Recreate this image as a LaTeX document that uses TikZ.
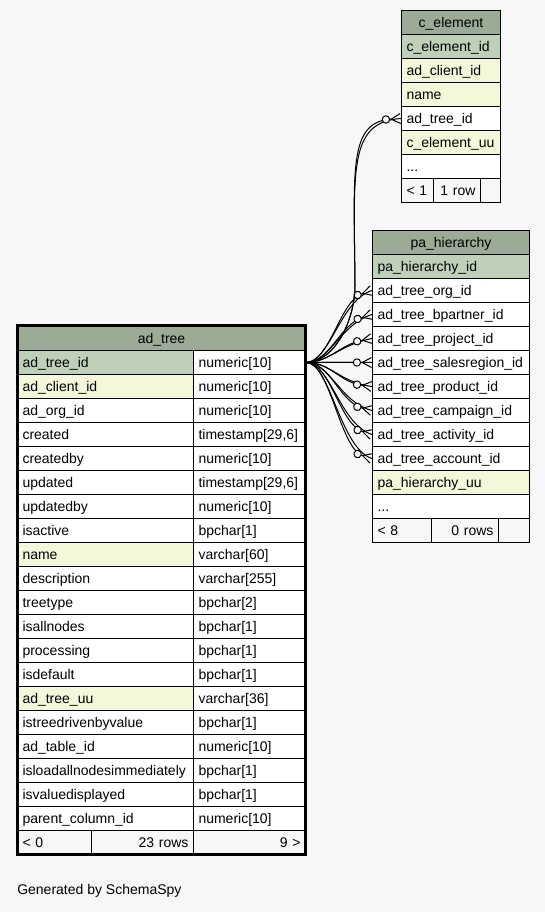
\documentclass[tikz,border=0pt]{standalone}
\usepackage{fontspec}
\setmainfont{Liberation Sans}
\usetikzlibrary{arrows.meta,calc}
\definecolor{PageBg}{HTML}{F7F7F7}
\definecolor{HeadGreen}{HTML}{9BAB96}
\definecolor{KeyGreen}{HTML}{BED1B8}
\definecolor{IdxYellow}{HTML}{F4F7DA}

\begin{document}
\begin{tikzpicture}[x=.75pt,y=-.75pt,
    cellstyle/.style={draw,line width=.75pt,anchor=north west,minimum height=18pt,inner xsep=3.75pt,inner ysep=0pt,
      text height=10pt,text depth=2.5pt,align=left,font=\fontsize{10.5}{12}\selectfont,fill=white},
    headstyle/.style={cellstyle,fill=HeadGreen,align=center},
    footstyle/.style={cellstyle,fill=PageBg},
    fkstyle/.style={line width=.75pt,postaction={draw,-{Circle[length=6.3pt,fill=PageBg]Straight Barb[reversed,length=7pt,width=7.5pt]}}}]
  \fill[PageBg] (0,0) rectangle (545,912);
  % c_element
  \node[headstyle,text width=66.75pt] (cehead) at (401,10) {c\_element};
  \foreach \txt/\clr [count=\i] in {c\_element\_id/KeyGreen,ad\_client\_id/IdxYellow,name/IdxYellow,ad\_tree\_id/white,c\_element\_uu/IdxYellow,{.{}.{}.}/white}
    \node[cellstyle,fill=\clr,text width=66.75pt] (ce\i) at (401,10+24*\i) {\txt};
  \node[footstyle,text width=16.5pt] (cefoot1) at (401,178) {< 1};
  \node[footstyle,text width=27.75pt,align=right] (cefoot2) at (433,178) {1 row};
  \node[footstyle,text width=7.5pt] (cefoot3) at (480,178) {};
  % pa_hierarchy
  \node[headstyle,text width=110.25pt] (phhead) at (372,230) {pa\_hierarchy};
  \foreach \txt/\clr [count=\i] in {pa\_hierarchy\_id/KeyGreen,ad\_tree\_org\_id/white,ad\_tree\_bpartner\_id/white,
      ad\_tree\_project\_id/white,ad\_tree\_salesregion\_id/white,ad\_tree\_product\_id/white,ad\_tree\_campaign\_id/white,
      ad\_tree\_activity\_id/white,ad\_tree\_account\_id/white,pa\_hierarchy\_uu/IdxYellow,{.{}.{}.}/white}
    \node[cellstyle,fill=\clr,text width=110.25pt] (ph\i) at (372,230+24*\i) {\txt};
  \node[footstyle,text width=36.75pt] (phfoot1) at (372,518) {< 8};
  \node[footstyle,text width=42.75pt,align=right] (phfoot2) at (431,518) {0 rows};
  \node[footstyle,text width=15.75pt] (phfoot3) at (498,518) {};
  % ad_tree
  \node[headstyle,text width=208.5pt] (athead) at (17,326) {ad\_tree};
  \foreach \col/\typ/\clr [count=\i] in {ad\_tree\_id/numeric[10]/KeyGreen,ad\_client\_id/numeric[10]/IdxYellow,
      ad\_org\_id/numeric[10]/white,created/{timestamp[29,6]}/white,createdby/numeric[10]/white,
      updated/{timestamp[29,6]}/white,updatedby/numeric[10]/white,isactive/bpchar[1]/white,
      name/varchar[60]/IdxYellow,description/varchar[255]/white,treetype/bpchar[2]/white,
      isallnodes/bpchar[1]/white,processing/bpchar[1]/white,isdefault/bpchar[1]/white,
      ad\_tree\_uu/varchar[36]/IdxYellow,istreedrivenbyvalue/bpchar[1]/white,ad\_table\_id/numeric[10]/white,
      isloadallnodesimmediately/bpchar[1]/white,isvaluedisplayed/bpchar[1]/white,parent\_column\_id/numeric[10]/white}
  {
    \node[cellstyle,fill=\clr,text width=124.5pt] (atn\i) at (17,326+24*\i) {\col};
    \node[cellstyle,text width=76.5pt] (att\i) at (193,326+24*\i) {\typ};
  }
  \node[footstyle,text width=48pt] (atfoot1) at (17,830) {< 0};
  \node[footstyle,text width=69pt,align=right] (atfoot2) at (91,830) {23 rows};
  \node[footstyle,text width=76.5pt,align=right] (atfoot3) at (193,830) {9 >};
  \draw[line width=2.25pt] (17,326) rectangle (305,854);
  % foreign keys
  \foreach \k/\off in {2/5,3/5,4/3,5/0,6/-2,7/-4,8/-5,9/-5}
    \draw[fkstyle] (att1.east) .. controls (330,362) and ($(ph\k.west)+(-32,2*\off)$) .. (ph\k.west);
  \draw[fkstyle] (att1.east) .. controls (335,362) and (355,320) .. (355,285)
    .. controls (354,170) and (348,122) .. (ce4.west);
  \node[anchor=west,inner sep=0pt,font=\fontsize{10.5}{12}\selectfont] (credit) at (17,891) {Generated by SchemaSpy};
\end{tikzpicture}
\end{document}
